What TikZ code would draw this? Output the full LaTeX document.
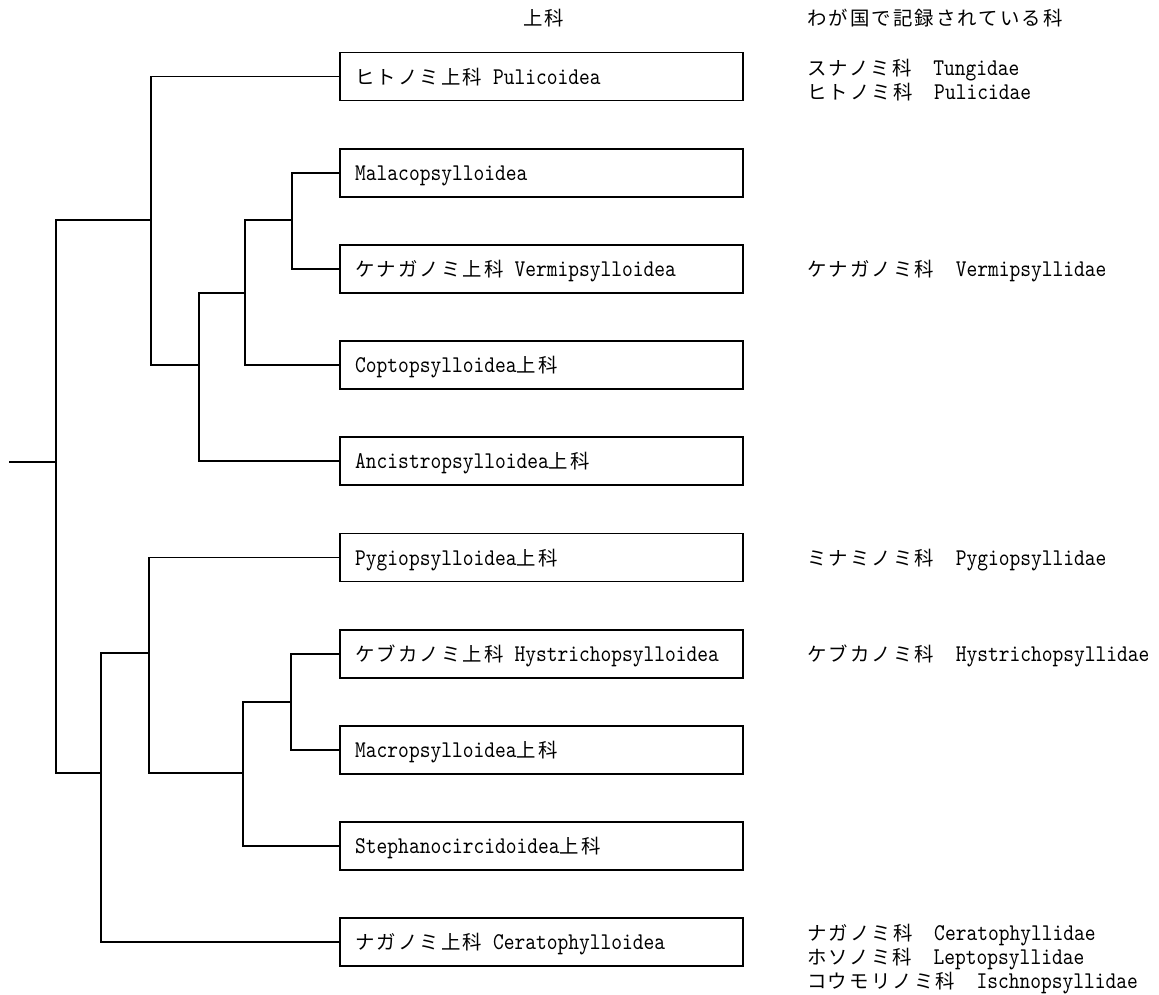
\documentclass[tikz,border=0pt]{standalone}
\usepackage{fontspec}
\newfontfamily\jpf{Noto Sans CJK JP}[LetterSpace=11]
\newfontfamily\ltt{lmmono10-regular.otf}[FakeStretch=0.854]
\newcommand\J[1]{{\jpf\fontsize{19.4}{24}\selectfont #1}}
\newcommand\Lt[1]{{\ltt\fontsize{24}{24}\selectfont #1}}
\newcommand\hsA{\hspace{10.75pt}}
\newcommand\hsB{\hspace{21.5pt}}
\tikzset{
  box/.style={draw, line width=1.8pt, rectangle, minimum width=403pt, minimum height=48pt, inner sep=0pt},
  lab/.style={anchor=base west, inner sep=0pt, yshift=-7.5pt},
  br/.style={line width=1.8pt, line cap=rect, line join=miter},
}
\begin{document}
\begin{tikzpicture}[x=1pt,y=-1pt]
\useasboundingbox (0,0) rectangle (1159,994);
% boxes
\node[box] (b1)  at (541.5,76.5)  {};
\node[box] (b2)  at (541.5,172.7) {};
\node[box] (b3)  at (541.5,268.9) {};
\node[box] (b4)  at (541.5,365.1) {};
\node[box] (b5)  at (541.5,461.3) {};
\node[box] (b6)  at (541.5,557.5) {};
\node[box] (b7)  at (541.5,653.7) {};
\node[box] (b8)  at (541.5,749.9) {};
\node[box] (b9)  at (541.5,846.1) {};
\node[box] (b10) at (541.5,942.3) {};
% box labels
\node[lab] (t1)  at (355,76.5)  {\J{ヒトノミ上科}\hsA\Lt{Pulicoidea}};
\node[lab] (t2)  at (355,172.7) {\Lt{Malacopsylloidea}};
\node[lab] (t3)  at (355,268.9) {\J{ケナガノミ上科}\hsA\Lt{Vermipsylloidea}};
\node[lab] (t4)  at (355,365.1) {\Lt{Coptopsylloidea}\J{上科}};
\node[lab] (t5)  at (355,461.3) {\Lt{Ancistropsylloidea}\J{上科}};
\node[lab] (t6)  at (355,557.5) {\Lt{Pygiopsylloidea}\J{上科}};
\node[lab] (t7)  at (355,653.7) {\J{ケブカノミ上科}\hsA\Lt{Hystrichopsylloidea}};
\node[lab] (t8)  at (355,749.9) {\Lt{Macropsylloidea}\J{上科}};
\node[lab] (t9)  at (355,846.1) {\Lt{Stephanocircidoidea}\J{上科}};
\node[lab] (t10) at (355,942.3) {\J{ナガノミ上科}\hsA\Lt{Ceratophylloidea}};
% headers
\node[lab] (h1) at (523,18) {\J{上科}};
\node[lab] (h2) at (807,18) {\J{わが国で記録されている科}};
% right column
\node[lab] (f1a) at (807,68)    {\J{スナノミ科}\hsB\Lt{Tungidae}};
\node[lab] (f1b) at (807,92)    {\J{ヒトノミ科}\hsB\Lt{Pulicidae}};
\node[lab] (f3)  at (807,268.9) {\J{ケナガノミ科}\hsB\Lt{Vermipsyllidae}};
\node[lab] (f6)  at (807,557.5) {\J{ミナミノミ科}\hsB\Lt{Pygiopsyllidae}};
\node[lab] (f7)  at (807,653.7) {\J{ケブカノミ科}\hsB\Lt{Hystrichopsyllidae}};
\node[lab] (f10a) at (807,933)  {\J{ナガノミ科}\hsB\Lt{Ceratophyllidae}};
\node[lab] (f10b) at (807,957)  {\J{ホソノミ科}\hsB\Lt{Leptopsyllidae}};
\node[lab] (f10c) at (807,981)  {\J{コウモリノミ科}\hsB\Lt{Ischnopsyllidae}};
% junctions
\coordinate (root) at (10,462);
\coordinate (r)  at (56,462);
\coordinate (u1) at (151,220);
\coordinate (u2) at (199,365);
\coordinate (u3) at (245,293);
\coordinate (u4) at (292,220);
\coordinate (l1) at (101,773);
\coordinate (l2) at (149,653);
\coordinate (l3) at (243,773);
\coordinate (l4) at (291,702);
% upper clade
\draw[br] (b2.west) -| (u4) |- (b3.west);
\draw[br] (u4) -| (u3) |- (b4.west);
\draw[br] (u3) -| (u2) |- (b5.west);
\draw[br] (b1.west) -| (u1);
\draw[br] (u2) -| (u1);
\draw[br] (u1) -| (r);
% lower clade
\draw[br] (b7.west) -| (l4) |- (b8.west);
\draw[br] (l4) -| (l3) |- (b9.west);
\draw[br] (b6.west) -| (l2);
\draw[br] (l3) -| (l2);
\draw[br] (l2) -| (l1) |- (b10.west);
\draw[br] (l1) -| (r);
\draw[br] (r) -- (root);
\end{tikzpicture}
\end{document}
